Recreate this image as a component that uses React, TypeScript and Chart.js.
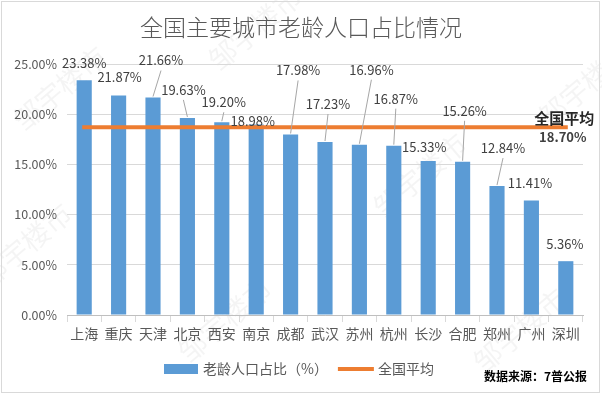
import React, { useEffect, useRef } from "react";
import { Chart, registerables } from "chart.js";

Chart.register(...registerables);

// ---------- data ----------
const cities = ["上海", "重庆", "天津", "北京", "西安", "南京", "成都", "武汉", "苏州", "杭州", "长沙", "合肥", "郑州", "广州", "深圳"];
const elderlyShare = [23.38, 21.87, 21.66, 19.63, 19.2, 18.98, 17.98, 17.23, 16.96, 16.87, 15.33, 15.26, 12.84, 11.41, 5.36];
const nationalAverage = [18.7, 18.7, 18.7, 18.7, 18.7, 18.7, 18.7, 18.7, 18.7, 18.7, 18.7, 18.7, 18.7, 18.7, 18.7];
const yTickValues = [0, 5, 10, 15, 20, 25];
const seriesNames = ["老龄人口占比（%）", "全国平均"];
const chartTitle = "全国主要城市老龄人口占比情况";
const averageNote = "全国平均";
const sourceNote = "数据来源：7普公报";
const watermarkText = "邹宇楼市";

// ---------- styling (label placement relative to bar top: dx, dy, leader line) ----------
const labelPlacement: [number, number, boolean][] = [
  [0, -17, false],
  [1, -18, false],
  [8, -37, true],
  [-4, -28, true],
  [2, -20, true],
  [-3.5, -3.5, false],
  [7.5, -64, true],
  [3, -38, true],
  [12, -75, true],
  [2, -47, true],
  [-4, -14, false],
  [2, -51, true],
  [6, -38, true],
  [-1.5, -17.5, false],
  [-1, -17, false],
];

const BLUE = "#5B9BD5";
const ORANGE = "#ED7D31";
const FONT = '"Noto Sans CJK SC", "Noto Sans", sans-serif';

const decorPlugin = {
  id: "decor",
  beforeDraw(chart: any) {
    const ctx = chart.ctx;
    ctx.save();
    ctx.fillStyle = "#ffffff";
    ctx.fillRect(0, 0, chart.width, chart.height);
    // faint watermark
    ctx.font = `28px ${FONT}`;
    ctx.fillStyle = "rgba(0,0,0,0.045)";
    ctx.textAlign = "center";
    ctx.textBaseline = "middle";
    const spots = [
      [60, 88], [255, 28], [585, 85], [420, 175], [25, 245], [225, 320], [520, 330],
    ];
    for (const [x, y] of spots) {
      ctx.save();
      ctx.translate(x, y);
      ctx.rotate(-Math.PI / 4.5);
      ctx.fillText(watermarkText, 0, 0);
      ctx.restore();
    }
    ctx.restore();
  },
  afterDraw(chart: any) {
    const ctx = chart.ctx;
    ctx.save();
    // border
    ctx.strokeStyle = "#d9d9d9";
    ctx.lineWidth = 1;
    ctx.strokeRect(1.5, 1.5, 598, 391);

    // title
    ctx.fillStyle = "#595959";
    ctx.font = `300 23px ${FONT}`;
    ctx.textAlign = "center";
    ctx.textBaseline = "middle";
    ctx.fillText(chartTitle, 301, 27);

    // data labels
    const barMeta = chart.getDatasetMeta(1);
    ctx.font = `13px ${FONT}`;
    barMeta.data.forEach((el: any, i: number) => {
      const [dx, dy, leader] = labelPlacement[i];
      const lx = el.x + dx;
      const ly = el.y + dy;
      if (leader) {
        ctx.strokeStyle = "#a6a6a6";
        ctx.lineWidth = 1;
        ctx.beginPath();
        ctx.moveTo(el.x, el.y - 1);
        ctx.lineTo(lx, ly + 10);
        ctx.stroke();
      }
      ctx.fillStyle = "#404040";
      ctx.textAlign = "center";
      ctx.fillText(elderlyShare[i].toFixed(2) + "%", lx, ly);
    });

    // average annotation at end of line
    const lineMeta = chart.getDatasetMeta(0);
    const last = lineMeta.data[lineMeta.data.length - 1];
    ctx.fillStyle = "#262626";
    ctx.font = `bold 15px ${FONT}`;
    ctx.fillText(averageNote, last.x - 1.5, last.y - 9);
    ctx.fillStyle = "#404040";
    ctx.font = `bold 13px ${FONT}`;
    ctx.fillText(nationalAverage[nationalAverage.length - 1].toFixed(2) + "%", last.x - 3, last.y + 10);

    // legend
    let x = 164;
    const ly = 369;
    ctx.fillStyle = BLUE;
    ctx.fillRect(x, ly - 5, 34, 10);
    x += 39;
    ctx.font = `14px ${FONT}`;
    ctx.fillStyle = "#595959";
    ctx.textAlign = "left";
    ctx.fillText(seriesNames[0], x, ly);
    x += ctx.measureText(seriesNames[0]).width + 10;
    ctx.strokeStyle = ORANGE;
    ctx.lineWidth = 4;
    ctx.beginPath();
    ctx.moveTo(x, ly);
    ctx.lineTo(x + 36, ly);
    ctx.stroke();
    x += 40;
    ctx.fillStyle = "#595959";
    ctx.fillText(seriesNames[1], x, ly);

    // source
    ctx.fillStyle = "#000000";
    ctx.font = `bold 12px ${FONT}`;
    ctx.textAlign = "right";
    ctx.fillText(sourceNote, 587, 376);
    ctx.restore();
  },
};

export default function App() {
  const canvasRef = useRef<HTMLCanvasElement | null>(null);

  useEffect(() => {
    document.body.style.margin = "0";
    const canvas = canvasRef.current;
    if (!canvas) return;
    Chart.defaults.font.family = FONT;
    const chart = new Chart(canvas, {
      type: "bar",
      data: {
        labels: cities,
        datasets: [
          {
            type: "line",
            label: seriesNames[1],
            data: nationalAverage,
            borderColor: ORANGE,
            backgroundColor: ORANGE,
            borderWidth: 4,
            pointRadius: 0,
            borderCapStyle: "square",
            order: 0,
          } as any,
          {
            type: "bar",
            label: seriesNames[0],
            data: elderlyShare,
            backgroundColor: BLUE,
            barPercentage: 0.44,
            categoryPercentage: 1,
            order: 1,
          },
        ],
      },
      options: {
        responsive: false,
        animation: false,
        devicePixelRatio: 1,
        layout: { padding: { top: 64, right: 19, left: 0, bottom: 0 } },
        plugins: {
          legend: { display: false },
          title: { display: false },
          tooltip: { enabled: false },
        },
        scales: {
          x: {
            offset: true,
            grid: {
              display: true,
              offset: true,
              drawOnChartArea: false,
              drawTicks: true,
              tickLength: 7,
              color: "#d9d9d9",
            },
            border: { display: true, color: "#bfbfbf", width: 1 },
            ticks: {
              color: "#595959",
              font: { size: 14, family: FONT },
              padding: 3,
              maxRotation: 0,
              autoSkip: false,
            },
            afterFit: (scale: any) => {
              scale.height = 80;
            },
          },
          y: {
            min: yTickValues[0],
            max: yTickValues[yTickValues.length - 1],
            afterBuildTicks: (scale: any) => {
              scale.ticks = yTickValues.map((v) => ({ value: v }));
            },
            grid: { color: "#d9d9d9", drawTicks: false },
            border: { display: false },
            ticks: {
              color: "#595959",
              font: { size: 12.5, family: FONT },
              padding: 10,
              callback: (v: any) => Number(v).toFixed(2) + "%",
            },
            afterFit: (scale: any) => {
              scale.width = 67;
            },
          },
        },
      },
      plugins: [decorPlugin],
    });
    return () => chart.destroy();
  }, []);

  return (
    <div style={{ position: "absolute", left: 0, top: 0, width: 602, height: 395 }}>
      <canvas ref={canvasRef} width={602} height={395} style={{ display: "block", width: 602, height: 395 }} />
    </div>
  );
}
